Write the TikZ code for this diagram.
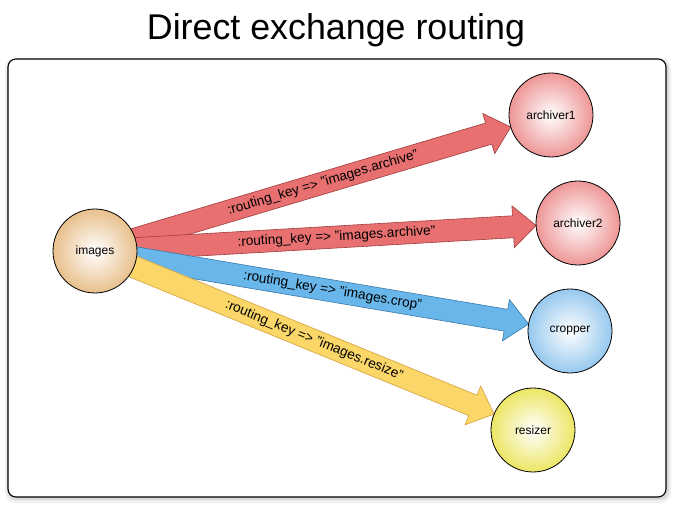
\documentclass[tikz,border=0pt]{standalone}
\usepackage{fontspec}
\setmainfont{Liberation Sans}
\usepackage{tikz}
\usetikzlibrary{calc,positioning,backgrounds}
\definecolor{routeRed}{RGB}{232,112,112}
\definecolor{routeRedDark}{RGB}{160,60,60}
\definecolor{routeBlue}{RGB}{104,182,234}
\definecolor{routeBlueDark}{RGB}{58,122,170}
\definecolor{routeYellow}{RGB}{251,214,104}
\definecolor{routeYellowDark}{RGB}{214,160,60}
\definecolor{qTan}{RGB}{232,192,140}
\definecolor{qPink}{RGB}{238,150,150}
\definecolor{qSky}{RGB}{150,200,238}
\definecolor{qLemon}{RGB}{236,230,100}

\tikzset{
  queue/.style={circle, draw=black, line width=0.8pt, minimum size=84pt, inner sep=0pt,
    inner color=white, outer color=#1, font=\fontsize{12}{14}\selectfont},
  keylabel/.style={sloped, pos=0.5, inner sep=1pt, font=\fontsize{13.6}{16}\selectfont},
  redarrow/.style={fill=routeRed, draw=routeRedDark, line width=0.6pt, line join=round},
  bluearrow/.style={fill=routeBlue, draw=routeBlueDark, line width=0.6pt, line join=round},
  yellowarrow/.style={fill=routeYellow, draw=routeYellowDark, line width=0.6pt, line join=round}
}

% block arrow from one circle to another
\newcommand{\routearrow}[3]{%
  \coordinate (s) at ($(#1)!30pt!(#2)$);
  \coordinate (t) at ($(#2)!42pt!(#1)$);
  \coordinate (h) at ($(t)!23pt!(s)$);
  \filldraw[#3] ($(s)!11pt!90:(t)$) -- ($(h)!11pt!90:(t)$) -- ($(h)!21pt!90:(t)$) -- (t)
    -- ($(h)!21pt!-90:(t)$) -- ($(h)!11pt!-90:(t)$) -- ($(s)!11pt!-90:(t)$) -- cycle;
}

\begin{document}
\begin{tikzpicture}[x=1pt,y=-1pt]
    \useasboundingbox (0,0) rectangle (678,505);
    \node[anchor=base, font=\fontsize{35.8}{40}\selectfont] (title) at (336,40) {Direct exchange routing};

    \node[queue=qTan] (images) at (95,251) {images};
    \node[queue=qPink] (archiver1) at (551,115) {archiver1};
    \node[queue=qPink] (archiver2) at (578,223) {archiver2};
    \node[queue=qSky] (cropper) at (570,331) {cropper};
    \node[queue=qLemon] (resizer) at (533,430) {resizer};

    \begin{scope}[on background layer]
        \fill[gray!12, rounded corners=10pt] (5,58) rectangle (671,503);
        \fill[gray!30, rounded corners=9pt] (7,59) rectangle (669,500);
        \draw[black, line width=1.1pt, fill=white, rounded corners=8pt] (8,59) rectangle (666,497);
        \routearrow{images}{archiver1}{redarrow}
        \routearrow{images}{archiver2}{redarrow}
        \routearrow{images}{cropper}{bluearrow}
        \routearrow{images}{resizer}{yellowarrow}
    \end{scope}

    \path (images) -- (archiver1) node[keylabel] {:routing\_key => "images.archive"};
    \path (images) -- (archiver2) node[keylabel] {:routing\_key => "images.archive"};
    \path (images) -- (cropper) node[keylabel] {:routing\_key => "images.crop"};
    \path (images) -- (resizer) node[keylabel] {:routing\_key => "images.resize"};
\end{tikzpicture}
\end{document}
